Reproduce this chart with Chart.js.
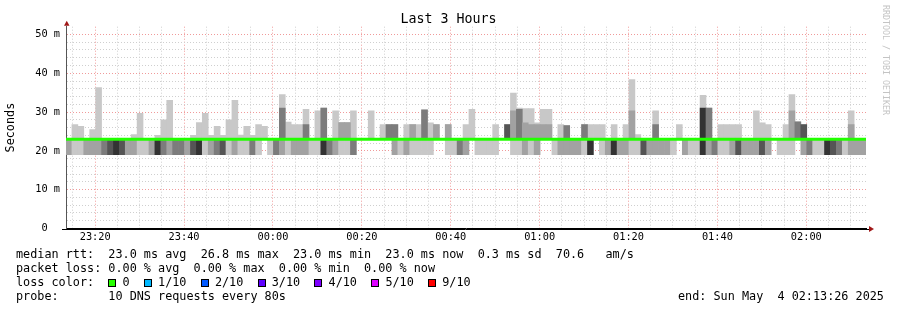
<!DOCTYPE html>
<html>
<head>
<meta charset="utf-8">
<script src="https://cdn.jsdelivr.net/npm/chart.js@4.4.0/dist/chart.umd.min.js"></script>
<style>
  body { margin: 0; background: #fff; }
  #wrap { position: relative; width: 897px; height: 310px; overflow: hidden; background: #fff; }
  #chart { position: absolute; left: 0; top: 0; }
  .mono { font-family: 'DejaVu Sans Mono', monospace; color: #000; white-space: pre; position: absolute; }
  #title { left: 0; width: 897px; text-align: center; top: 11px; font-size: 13.3px; line-height: 16px; }
  .leg { left: 16px; font-size: 11.8px; line-height: 14px; }
  .box { display: inline-block; width: 6px; height: 6px; border: 1px solid #000; margin-right: calc(2ch - 8px); vertical-align: -1px; }
  #mark { right: 6px; top: 5px; font-size: 8.3px; color: #c4c4c4; writing-mode: vertical-rl; }
</style>
</head>
<body>
<div id="wrap">
  <canvas id="chart" width="897" height="310"></canvas>
  <div id="title" class="mono">Last 3 Hours</div>
  <div id="mark" class="mono">RRDTOOL / TOBI OETIKER</div>
  <div class="mono leg" style="top:247px">median rtt:  23.0 ms avg  26.8 ms max  23.0 ms min  23.0 ms now  0.3 ms sd  70.6   am/s</div>
  <div class="mono leg" style="top:261px">packet loss: 0.00 % avg  0.00 % max  0.00 % min  0.00 % now</div>
  <div class="mono leg" id="lossLine" style="top:275px"></div>
  <div class="mono leg" style="top:289px">probe:       10 DNS requests every 80s</div>
  <div class="mono leg" style="top:289px;left:678px">end: Sun May  4 02:13:26 2025</div>
</div>
<script>
// one column per probe round (80 s), 3 hours ending 02:13:26
const STEP = 80;
const SPAN = 10800;
const medianRtt = 23.0;   // ms, flat over the whole window
const smokeLow = 19.0;    // ms, bottom of the smoke

// top of the light smoke above the median (ms), null = none
const smokeHigh = [
  null, 26.8, 26.3, null, 25.5, 36.3, null, null, null, null,
  null, 24.2, 29.7, null, null, 24.0, 28.0, 33.0, null, null,
  null, 24.0, 27.3, 29.7, 24.0, 26.3, 24.0, 28.0, 33.0, 24.1,
  26.3, 24.0, 26.8, 26.3, null, null, 34.5, 27.4, 26.8, 26.8,
  30.7, null, 30.3, 31.0, null, 30.3, 27.3, 27.3, 30.3, null,
  null, 30.3, null, 26.8, 26.8, 26.8, null, 26.8, 26.8, 26.8,
  30.7, 27.2, 26.8, null, 26.8, null, null, 26.8, 30.7, null,
  null, null, 26.8, null, 26.8, 34.9, 31.0, 30.9, 30.9, 27.2,
  30.7, 30.7, null, 26.8, 26.5, null, null, 26.8, 26.8, 26.8,
  26.8, null, 26.8, null, 26.8, 38.4, 24.2, null, null, 30.3,
  null, null, null, 26.8, null, null, null, 34.3, 31.0, null,
  26.8, 26.8, 26.8, 26.8, null, null, 30.3, 27.2, 26.8, null,
  null, 26.8, 34.5, 27.5, 26.8, null, null, null, null, null,
  null, null, 30.3, null, null
];

// denser smoke above the median: column -> [top ms, shade]
const smokeCore = {
  36: [31.0, 2], 40: [26.8, 2], 43: [31.0, 2], 46: [27.3, 1], 47: [27.3, 1],
  54: [26.8, 2], 55: [26.8, 2], 58: [26.8, 1], 60: [30.5, 2], 62: [26.8, 1],
  64: [26.8, 1], 74: [26.8, 3], 75: [30.3, 1], 76: [30.7, 2], 77: [27.2, 1],
  78: [26.8, 1], 79: [26.8, 1], 80: [26.8, 1], 81: [26.8, 1], 84: [26.5, 2],
  87: [26.8, 2], 95: [30.3, 1], 99: [26.8, 2], 107: [31.0, 4], 108: [31.0, 2],
  122: [30.3, 1], 123: [27.5, 2], 124: [26.8, 3], 132: [26.8, 1]
};

// shade of the smoke below the median, null = none
const lowShade = [
  1, 0, 0, 1, 1, 1, 2, 3, 4, 3,
  1, 1, 0, 0, 1, 4, 2, 1, 2, 2,
  1, 3, 4, 0, 1, 2, 3, 0, 1, 0,
  0, 2, 0, null, 0, 2, 1, 0, 1, 1,
  1, 0, 0, 4, 2, 1, 0, 0, 2, null,
  null, null, null, null, null, 1, 0, 1, 0, 0,
  0, 0, null, null, 0, 0, 2, 1, null, 0,
  0, 0, 0, null, null, 0, 0, 1, 0, 1,
  null, null, 0, 1, 1, 1, 1, 0, 4, null,
  0, 1, 4, 1, 1, 0, 0, 3, 1, 1,
  1, 1, 0, null, 1, 0, 0, 4, 1, 2,
  0, 0, 1, 3, 1, 1, 1, 3, 1, null,
  0, 0, 0, null, 1, 2, 0, 0, 4, 3,
  2, 0, 1, 1, 1
];

const shades = ['#c8c8c8', '#a2a2a2', '#7c7c7c', '#555555', '#333333'];

// x ticks: seconds after 23:13:26
const xTickSeconds = [394, 1594, 2794, 3994, 5194, 6394, 7594, 8794, 9994];
const xTickLabels = ['23:20', '23:40', '00:00', '00:20', '00:40', '01:00', '01:20', '01:40', '02:00'];
const yTickValues = [0, 10, 20, 30, 40, 50];
const yTickLabels = ['0  ', '10 m', '20 m', '30 m', '40 m', '50 m'];

const lossColors = ['#26ff00', '#00b8ff', '#0059ff', '#5e00ff', '#7e00ff', '#dd00ff', '#ff0000'];
const lossLabels = ['0', '1/10', '2/10', '3/10', '4/10', '5/10', '9/10'];

// legend row with the coloured boxes
const lossLine = document.getElementById('lossLine');
lossLine.appendChild(document.createTextNode('loss color:  '));
lossLabels.forEach((label, i) => {
    const box = document.createElement('span');
    box.className = 'box';
    box.style.background = lossColors[i];
    lossLine.appendChild(box);
    lossLine.appendChild(document.createTextNode(label + '  '));
});

const mid = i => i * STEP + STEP / 2;
const upperLight = [], upperCore = [], lower = [];
const coreColors = [], lowColors = [];
smokeHigh.forEach((h, i) => {
    if (h !== null) upperLight.push({ x: mid(i), y: [medianRtt, h] });
    if (smokeCore[i]) {
        upperCore.push({ x: mid(i), y: [medianRtt, smokeCore[i][0]] });
        coreColors.push(shades[smokeCore[i][1]]);
    }
    if (lowShade[i] !== null) {
        lower.push({ x: mid(i), y: [smokeLow, medianRtt] });
        lowColors.push(shades[lowShade[i]]);
    }
});
const medianLine = smokeHigh.map((_, i) => ({ x: i * STEP, y: medianRtt }));
medianLine.push({ x: SPAN, y: medianRtt });

const mono = 'DejaVu Sans Mono';
const majorGrid = 'rgba(235, 120, 120, 0.75)';
const minorGrid = '#cfcfcf';

const axisArrows = {
    id: 'axisArrows',
    afterDraw(chart) {
        const { ctx, chartArea: a } = chart;
        ctx.save();
        ctx.strokeStyle = '#000';
        ctx.lineWidth = 1;
        ctx.beginPath();
        ctx.moveTo(a.left - 4, Math.round(a.bottom) + 0.5);
        ctx.lineTo(a.right + 3, Math.round(a.bottom) + 0.5);
        ctx.stroke();
        ctx.fillStyle = '#a01818';
        ctx.beginPath();
        ctx.moveTo(a.left - 2, a.top - 1);
        ctx.lineTo(a.left + 3.5, a.top - 1);
        ctx.lineTo(a.left + 0.75, a.top - 6);
        ctx.fill();
        ctx.beginPath();
        ctx.moveTo(a.right + 3, a.bottom - 2.5);
        ctx.lineTo(a.right + 3, a.bottom + 3.5);
        ctx.lineTo(a.right + 8, a.bottom + 0.5);
        ctx.fill();
        ctx.restore();
    }
};

new Chart(document.getElementById('chart'), {
    type: 'bar',
    data: {
        datasets: [
            {
                type: 'line',
                data: medianLine,
                borderColor: '#22ff00',
                borderWidth: 3,
                pointRadius: 0,
                stepped: true
            },
            { data: upperCore, backgroundColor: coreColors },
            { data: upperLight, backgroundColor: shades[0] },
            { data: lower, backgroundColor: lowColors }
        ]
    },
    options: {
        responsive: false,
        animation: false,
        events: [],
        layout: { padding: { top: 26.7, right: 31, bottom: 63.5, left: 0 } },
        datasets: {
            bar: {
                grouped: false,
                barPercentage: 1,
                categoryPercentage: 1,
                borderWidth: 0
            }
        },
        plugins: {
            legend: { display: false },
            tooltip: { enabled: false }
        },
        scales: {
            x: {
                type: 'linear',
                min: 0,
                max: SPAN,
                offset: false,
                z: 1,
                afterBuildTicks: scale => {
                    const ticks = [];
                    for (let s = 94; s < SPAN; s += 300) ticks.push({ value: s });
                    scale.ticks = ticks;
                },
                afterFit: scale => { scale.height = 18; },
                grid: {
                    drawTicks: false,
                    offset: false,
                    color: ctx => xTickSeconds.includes(ctx.tick.value) ? majorGrid : minorGrid
                },
                border: { color: '#000', dash: [1, 2] },
                ticks: {
                    autoSkip: false,
                    maxRotation: 0,
                    padding: 3,
                    color: '#000',
                    font: { family: mono, size: 10.3 },
                    callback: v => {
                        const k = xTickSeconds.indexOf(v);
                        return k >= 0 ? xTickLabels[k] : '';
                    }
                }
            },
            y: {
                min: 0,
                max: 52,
                z: 1,
                afterFit: scale => { scale.width = 66; },
                grid: {
                    drawTicks: false,
                    color: ctx => {
                        const v = ctx.tick.value;
                        if (v === 0 || v === 52) return 'rgba(0,0,0,0)';
                        return yTickValues.includes(v) ? majorGrid : minorGrid;
                    }
                },
                border: { color: '#555', dash: [1, 2] },
                title: {
                    display: true,
                    text: 'Seconds',
                    color: '#000',
                    font: { family: mono, size: 11.8 },
                    padding: { top: 4, bottom: 0 }
                },
                ticks: {
                    stepSize: 2,
                    autoSkip: false,
                    padding: 6,
                    color: '#000',
                    font: { family: mono, size: 10.3 },
                    callback: v => {
                        const k = yTickValues.indexOf(v);
                        return k >= 0 ? yTickLabels[k] : '';
                    }
                }
            }
        }
    },
    plugins: [axisArrows]
});
</script>
</body>
</html>
